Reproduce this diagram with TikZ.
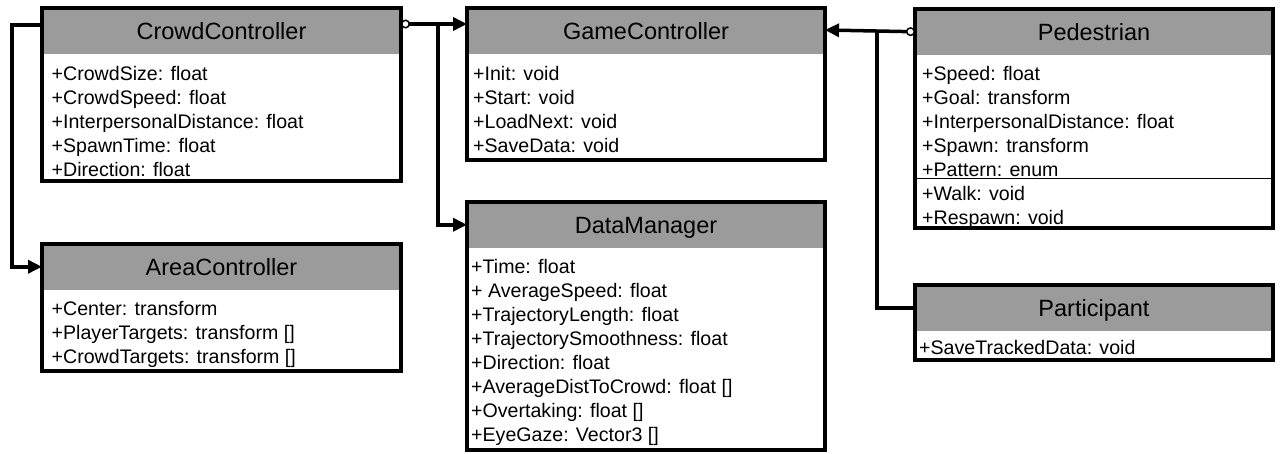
\documentclass[tikz,border=0pt]{standalone}
\usepackage{fontspec}
\setmainfont{Liberation Sans}
\usetikzlibrary{arrows.meta,calc}
\definecolor{hdrgray}{RGB}{155,155,155}
\tikzset{
  hdrbox/.style={rectangle, fill=hdrgray, inner sep=0pt, outer sep=0pt},
  classbox/.style={rectangle, draw=black, line width=4pt, inner sep=0pt, outer sep=0pt},
  titletext/.style={inner sep=0pt, anchor=base, font=\fontsize{23.5}{28}\selectfont},
  attrtext/.style={inner sep=0pt, anchor=base west, font=\fontsize{19.6}{24}\selectfont},
  conn/.style={line width=3.5pt, line join=miter},
  tohead/.style={-{Triangle[length=14pt,width=13pt]}},
  fromring/.style={{Circle[open,length=9pt,width=9pt,line width=1.5pt,fill=white]}-{Triangle[length=14pt,width=13pt]}},
}
% class box: name, x, y, width, height, title
\newcommand{\umlclass}[6]{%
  \node[hdrbox, minimum width=#4pt, minimum height=45.5pt, anchor=north west] (#1-h) at (#2,#3) {};
  \node[classbox, minimum width=#4pt, minimum height=#5pt, anchor=north west] (#1) at (#2,#3) {};
  \node[titletext] (#1-t) at ([yshift=-8.4pt]#1-h.center) {#6};
}
% attribute lines: name, x offset, first baseline offset, list
\newcommand{\umlattrs}[4]{%
  \foreach [count=\i] \attr in {#4}
    \node[attrtext] (#1-a\i) at ($(#1.north west)+(#2,{#3+24*(\i-1)})$) {\attr};
}
\begin{document}
\begin{tikzpicture}[x=1pt,y=-1pt]
\fill[white] (0,0) rectangle (1280,453);
\useasboundingbox (0,0) rectangle (1280,453);

\umlclass{crowd}{42}{8}{359}{173}{CrowdController}
\umlattrs{crowd}{9.5}{72}{{+CrowdSize: float},{+CrowdSpeed: float},{+InterpersonalDistance: float},{+SpawnTime: float},{+Direction: float}}

\umlclass{area}{42}{244}{359}{127}{AreaController}
\umlattrs{area}{9.5}{71}{{+Center: transform},{+PlayerTargets: transform []},{+CrowdTargets: transform []}}

\umlclass{game}{467}{8}{358}{152}{GameController}
\umlattrs{game}{6}{72}{{+Init: void},{+Start: void},{+LoadNext: void},{+SaveData: void}}

\umlclass{data}{467}{202}{358}{248}{DataManager}
\umlattrs{data}{4}{71}{{+Time: float},{+ AverageSpeed: float},{+TrajectoryLength: float},{+TrajectorySmoothness: float},{+Direction: float},{+AverageDistToCrowd: float []},{+Overtaking: float []},{+EyeGaze: Vector3 []}}

\umlclass{ped}{915}{9}{358}{219}{Pedestrian}
\umlattrs{ped}{7}{71}{{+Speed: float},{+Goal: transform},{+InterpersonalDistance: float},{+Spawn: transform},{+Pattern: enum},{+Walk: void},{+Respawn: void}}
\draw[line width=1.5pt] ($(ped.north west)+(0,169.5)$) -- ($(ped.north east)+(0,169.5)$);

\umlclass{part}{915}{285}{358}{75}{Participant}
\umlattrs{part}{4}{69}{{+SaveTrackedData: void}}

% junction points of the connector trees
\coordinate (jl) at (12,25);
\coordinate (jm) at (438,24);
\coordinate (jr) at (877,30);

% CrowdController -> AreaController
\draw[conn, tohead] (crowd.west |- jl) -- (jl) |- (area-h.west);
% CrowdController -> GameController, branch to DataManager
\draw[conn, fromring] (crowd.east |- jm) -- (game.west |- jm);
\draw[conn, tohead] (jm) |- (data-h.west);
% Pedestrian -> GameController, branch from Participant
\draw[conn, fromring] (ped-h.west) -- (game.east |- jr);
\draw[conn] (jr) |- (part-h.west);
\end{tikzpicture}
\end{document}
